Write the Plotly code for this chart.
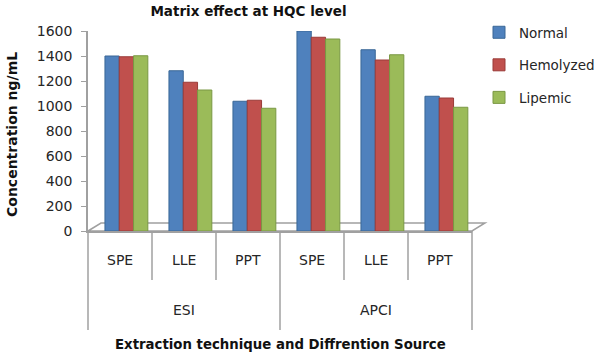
import plotly.graph_objects as go

sources = ["ESI", "APCI"]
techniques = ["SPE", "LLE", "PPT", "SPE", "LLE", "PPT"]
normal = [1400, 1282, 1038, 1600, 1450, 1078]
hemolyzed = [1394, 1190, 1046, 1550, 1368, 1064]
lipemic = [1402, 1128, 982, 1536, 1410, 990]
series_names = ["Normal", "Hemolyzed", "Lipemic"]
colors = ["#4F81BD", "#C0504D", "#9BBB59"]
edges = ["#3A6796", "#9A3B38", "#7A9844"]
y_ticks = [0, 200, 400, 600, 800, 1000, 1200, 1400, 1600]

FONT = "'DejaVu Sans', sans-serif"
TXT = "#262626"
AX = "#a0a0a0"

n_cat = len(techniques)
n_per = n_cat // len(sources)
pos = list(range(n_cat))
shift = 0.1  # 3D depth makes the bars sit slightly right of each slot

fig = go.Figure()
for name, vals, c, e in zip(series_names, [normal, hemolyzed, lipemic], colors, edges):
    fig.add_trace(go.Bar(
        x=pos, y=vals, name=name, legendgroup=name,
        marker=dict(color=c, line=dict(color=e, width=1)),
    ))

shapes = []
annotations = []
for i in range(n_cat + 1):
    xp = i / n_cat
    is_group = (i % n_per == 0)
    shapes.append(dict(type="line", xref="paper", yref="paper", x0=xp, x1=xp,
                       y0=0, y1=-0.495 if is_group else -0.245,
                       line=dict(color=AX, width=1.5)))
for i, t in enumerate(techniques):
    annotations.append(dict(x=(i + 0.5) / n_cat, y=-0.145, xref="paper", yref="paper", text=t,
                            showarrow=False, font=dict(size=14, color=TXT),
                            xanchor="center", yanchor="middle"))
for g, s in enumerate(sources):
    annotations.append(dict(x=(g + 0.5) / len(sources), y=-0.395, xref="paper", yref="paper",
                            text=s, showarrow=False, font=dict(size=14, color=TXT),
                            xanchor="center", yanchor="middle"))
annotations.append(dict(x=(280 - 88) / 384, y=-0.57, xref="paper", yref="paper",
                        text="<b>Extraction technique and Diffrention Source</b>",
                        showarrow=False, font=dict(size=13.3, color="#111"),
                        xanchor="center", yanchor="middle"))
annotations.append(dict(x=(11.5 - 88) / 384, y=0.4825, xref="paper", yref="paper",
                        text="<b>Concentration ng/mL</b>", textangle=-90,
                        showarrow=False, font=dict(size=14, color="#111"),
                        xanchor="center", yanchor="middle"))
dx, dy = 13 / 384, 8 / 200
shapes.append(dict(type="path", xref="paper", yref="paper",
                   path=f"M 0 0 L {dx} {dy} L {1 + dx} {dy} L 1 0 Z",
                   line=dict(color=AX, width=1.5), layer="below"))

fig.update_layout(
    width=600, height=356,
    margin=dict(l=88, r=128, t=31, b=125, autoexpand=False),
    paper_bgcolor="white", plot_bgcolor="white",
    font=dict(family=FONT, size=14, color=TXT),
    title=dict(text="<b>Matrix effect at HQC level</b>", x=248.5 / 600, xanchor="center",
               y=1 - 11 / 356, yanchor="middle", font=dict(size=13.5, color="#111")),
    barmode="group", bargap=0.33, bargroupgap=0.0,
    legend=dict(x=(479 - 88) / 384, xanchor="left", y=1.07, yanchor="top",
                font=dict(size=13.5, color=TXT), tracegroupgap=12,
                bgcolor="rgba(0,0,0,0)"),
    showlegend=True,
    shapes=shapes, annotations=annotations,
)
fig.update_yaxes(range=[0, 1600], tickvals=y_ticks, showgrid=False, showline=True,
                 linecolor=AX, linewidth=1.5, ticks="outside", ticklen=5,
                 tickcolor=AX, zeroline=False, automargin=False,
                 ticklabelstandoff=6, tickfont=dict(size=14, color=TXT))
fig.update_xaxes(range=[-0.5 - shift, n_cat - 0.5 - shift], showline=True, linecolor=AX,
                 linewidth=1.5, showgrid=False, showticklabels=False, ticks="",
                 zeroline=False, automargin=False)

fig.write_html("out.html", config={"displayModeBar": False},
               post_script="document.body.style.margin='0';")
